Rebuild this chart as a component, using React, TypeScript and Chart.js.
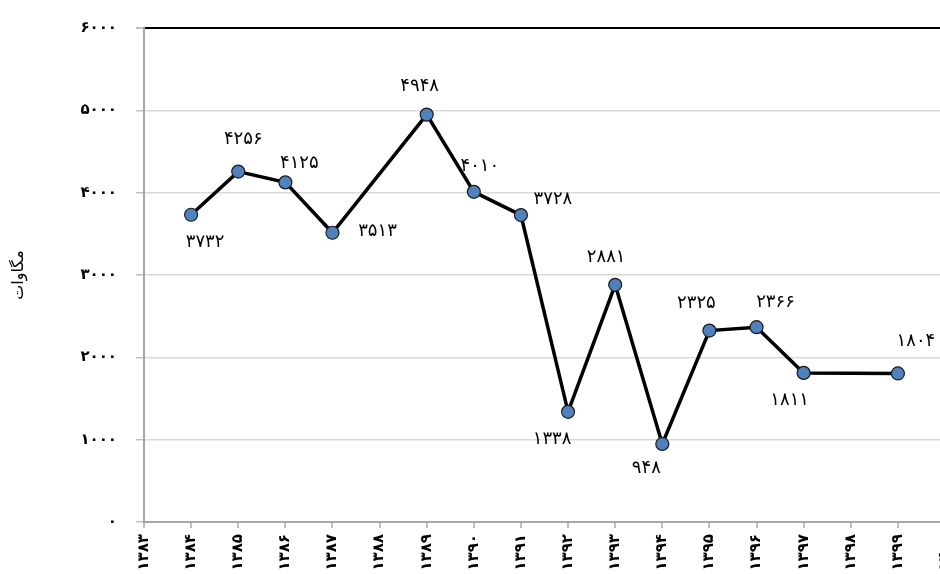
import React, { useEffect, useRef } from "react";
import { Chart, registerables } from "chart.js";

Chart.register(...registerables);

const years: number[] = [1383, 1384, 1385, 1386, 1387, 1388, 1389, 1390, 1391, 1392, 1393, 1394, 1395, 1396, 1397, 1398, 1399, 1400];
const values: (number | null)[] = [null, 3732, 4256, 4125, 3513, null, 4948, 4010, 3728, 1338, 2881, 948, 2325, 2366, 1811, null, 1804, null];
const yTicks: number[] = [0, 1000, 2000, 3000, 4000, 5000, 6000];
const yTitle = "مگاوات";

// label offsets (styling): [dx, dy] relative to each point
const labelOffsets: [number, number][] = [
  [0, 0], [14, 28], [5, -32], [14, -19], [45, -1], [0, 0], [-7, -28], [6, -26], [32, -16],
  [-16, 27], [-9, -27], [-16, 24], [-13, -27], [19, -25], [-14, 27], [0, 0], [18, -32], [0, 0],
];

const faDigits = "۰۱۲۳۴۵۶۷۸۹";
const toFa = (v: number | string) => String(v).replace(/[0-9]/g, (d) => faDigits[Number(d)]);

const FONT = "'DejaVu Sans', 'Noto Sans', sans-serif";

export default function App() {
  const ref = useRef<HTMLCanvasElement | null>(null);
  useEffect(() => {
    if (!ref.current) return;
    const labelPlugin = {
      id: "valueLabels",
      afterDatasetsDraw(chart: any) {
        const ctx = chart.ctx;
        const meta = chart.getDatasetMeta(0);
        ctx.save();
        ctx.font = `18px ${FONT}`;
        ctx.fillStyle = "#000";
        ctx.textAlign = "center";
        ctx.textBaseline = "middle";
        values.forEach((v, i) => {
          if (v === null) return;
          const p = meta.data[i];
          const [dx, dy] = labelOffsets[i];
          ctx.fillText(toFa(v), p.x + dx, p.y + dy);
        });
        ctx.restore();
      },
    };
    const chart = new Chart(ref.current, {
      type: "line",
      data: {
        labels: years.map((y) => toFa(y)),
        datasets: [
          {
            data: values,
            spanGaps: true,
            borderColor: "#000",
            borderWidth: 3.5,
            tension: 0,
            pointRadius: 6.5,
            pointHoverRadius: 6.5,
            pointBackgroundColor: "#4f81bd",
            pointBorderColor: "#1a1a1a",
            pointBorderWidth: 1.2,
          },
        ],
      },
      options: {
        animation: false,
        responsive: false,
        devicePixelRatio: 1,
        layout: { padding: { left: 0, top: 28, right: 12, bottom: 0 } },
        plugins: { legend: { display: false }, tooltip: { enabled: false } },
        scales: {
          x: {
            type: "category",
            offset: false,
            afterFit: (s: any) => { s.height = 78; },
            grid: { drawOnChartArea: false, drawTicks: true, tickLength: 6, tickColor: "#bfbfbf", lineWidth: 2 },
            border: { color: "#a6a6a6", width: 2 },
            ticks: {
              autoSkip: false,
              minRotation: 90,
              maxRotation: 90,
              padding: 6,
              color: "#000",
              font: { family: FONT, size: 15, weight: "bold" },
            },
          },
          y: {
            min: 0,
            max: 6000,
            afterFit: (s: any) => { s.width = 144; },
            afterBuildTicks: (s: any) => { s.ticks = yTicks.map((v) => ({ value: v })); },
            grid: {
              color: (c: any) => (c.tick && c.tick.value === 6000 ? "#000" : "#d9d9d9"),
              lineWidth: (c: any) => (c.tick && c.tick.value === 6000 ? 2 : 1.5),
              tickColor: "#bfbfbf",
              tickLength: 8,
            },
            border: { color: "#a6a6a6", width: 2 },
            ticks: {
              padding: 19,
              color: "#000",
              font: { family: FONT, size: 15, weight: "bold" },
              callback: (v: any) => toFa(v),
            },
            title: {
              display: true,
              text: yTitle,
              color: "#000",
              font: { family: FONT, size: 16 },
              padding: { top: 9, bottom: 0 },
            },
          },
        },
      },
      plugins: [labelPlugin],
    });
    return () => chart.destroy();
  }, []);
  return (
    <div style={{ position: "fixed", left: 0, top: 0, width: 940, height: 574, overflow: "hidden", background: "#fff" }}>
      <canvas ref={ref} width={969} height={600} style={{ display: "block" }} />
    </div>
  );
}
